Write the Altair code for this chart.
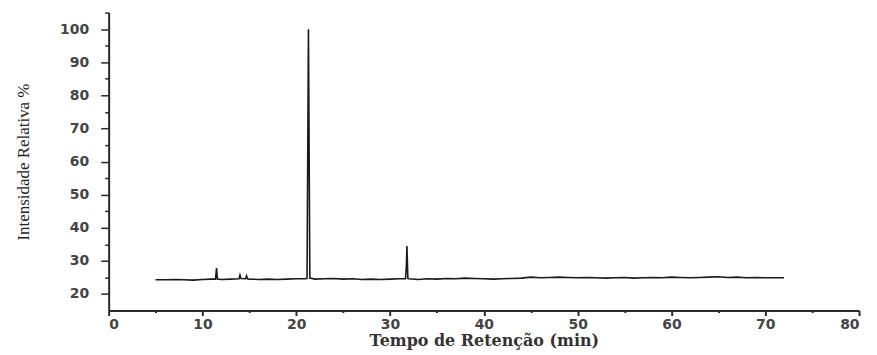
import altair as alt
import pandas as pd

time_min = [5, 6, 7, 8, 9, 10, 11, 11.4, 11.5, 11.6, 12, 13, 13.9, 14.0, 14.1, 14.6, 14.7, 14.8,
            15, 16, 17, 18, 19, 20, 21, 21.15, 21.3, 21.45, 22, 23, 24, 25, 26, 27, 28, 29, 30, 31,
            31.65, 31.75, 31.8, 31.9, 32, 33, 34, 35, 36, 37, 38, 39, 40, 41, 42, 43, 44, 45, 46,
            47, 48, 49, 50, 51, 52, 53, 54, 55, 56, 57, 58, 59, 60, 61, 62, 63, 64, 65, 66, 67,
            68, 69, 70, 71, 72]
intensity = [24.3, 24.3, 24.4, 24.3, 24.2, 24.4, 24.5, 24.5, 27.8, 24.5, 24.4, 24.5, 24.6, 25.7, 24.7,
             24.6, 25.5, 24.6, 24.5, 24.4, 24.5, 24.4, 24.5, 24.6, 24.6, 24.7, 100.0, 24.8, 24.5,
             24.6, 24.7, 24.5, 24.6, 24.4, 24.5, 24.4, 24.5, 24.6, 24.6, 29.0, 34.5, 24.7, 24.6,
             24.4, 24.6, 24.5, 24.7, 24.6, 24.8, 24.7, 24.6, 24.5, 24.6, 24.7, 24.8, 25.1, 24.9,
             25.0, 25.1, 25.0, 24.9, 25.0, 24.9, 24.8, 24.9, 25.0, 24.8, 24.9, 25.0, 24.9, 25.1,
             25.0, 24.9, 25.0, 25.1, 25.2, 25.0, 25.1, 24.9, 25.0, 24.9, 24.9, 24.9]

x_major = [0, 10, 20, 30, 40, 50, 60, 70, 80]
x_minor = [5, 15, 25, 35, 45, 55, 65, 75]
y_major = [20, 30, 40, 50, 60, 70, 80, 90, 100]
y_minor = [25, 35, 45, 55, 65, 75, 85, 95, 105]

df = pd.DataFrame({"t": time_min, "v": intensity})

xs = alt.Scale(domain=[0, 80], nice=False, zero=False)
ys = alt.Scale(domain=[15, 105], nice=False, zero=False)

label_font = "DejaVu Sans"
axis_color = "#2a2a2a"

line = alt.Chart(df).mark_line(color="#1a1a1a", strokeWidth=1.6).encode(
    x=alt.X("t:Q", scale=xs, axis=alt.Axis(
        values=x_major, title="Tempo de Retenção (min)", orient="bottom",
        domainColor=axis_color, domainWidth=2, tickColor=axis_color, tickWidth=2, tickSize=5,
        labelFont=label_font, labelFontWeight="bold", labelFontSize=14, labelColor="#444444",
        labelPadding=2, grid=False,
        titleFont="DejaVu Serif", titleFontWeight="bold", titleFontSize=16, titleColor="#333333",
        titlePadding=1)),
    y=alt.Y("v:Q", scale=ys, axis=alt.Axis(
        values=y_major, title="Intensidade Relativa %", orient="left",
        domainColor=axis_color, domainWidth=2, tickColor=axis_color, tickWidth=1.5, tickSize=8,
        labelFont=label_font, labelFontWeight="bold", labelFontSize=14, labelColor="#444444",
        labelPadding=12, grid=False,
        titleFont="Liberation Serif", titleFontWeight="normal", titleFontSize=17, titleColor="#222222",
        titlePadding=27)),
)

minor = alt.Chart(df).mark_line(opacity=0).encode(
    x=alt.X("t:Q", scale=xs, axis=alt.Axis(
        values=x_minor, title=None, orient="bottom", labels=False, domain=False,
        tickColor=axis_color, tickWidth=2, tickSize=2, grid=False)),
    y=alt.Y("v:Q", scale=ys, axis=alt.Axis(
        values=y_minor, title=None, orient="left", labels=False, domain=False,
        tickColor=axis_color, tickWidth=1.5, tickSize=4, grid=False)),
)

chart = alt.layer(line, minor).resolve_axis(x="independent", y="independent").properties(
    width=753, height=299,
    autosize=alt.AutoSizeParams(type="none"),
    padding={"left": 101, "top": 4, "right": 10, "bottom": 40},
).configure_view(stroke=None)

chart.save("out.html", embed_options={"renderer": "svg", "actions": False})
